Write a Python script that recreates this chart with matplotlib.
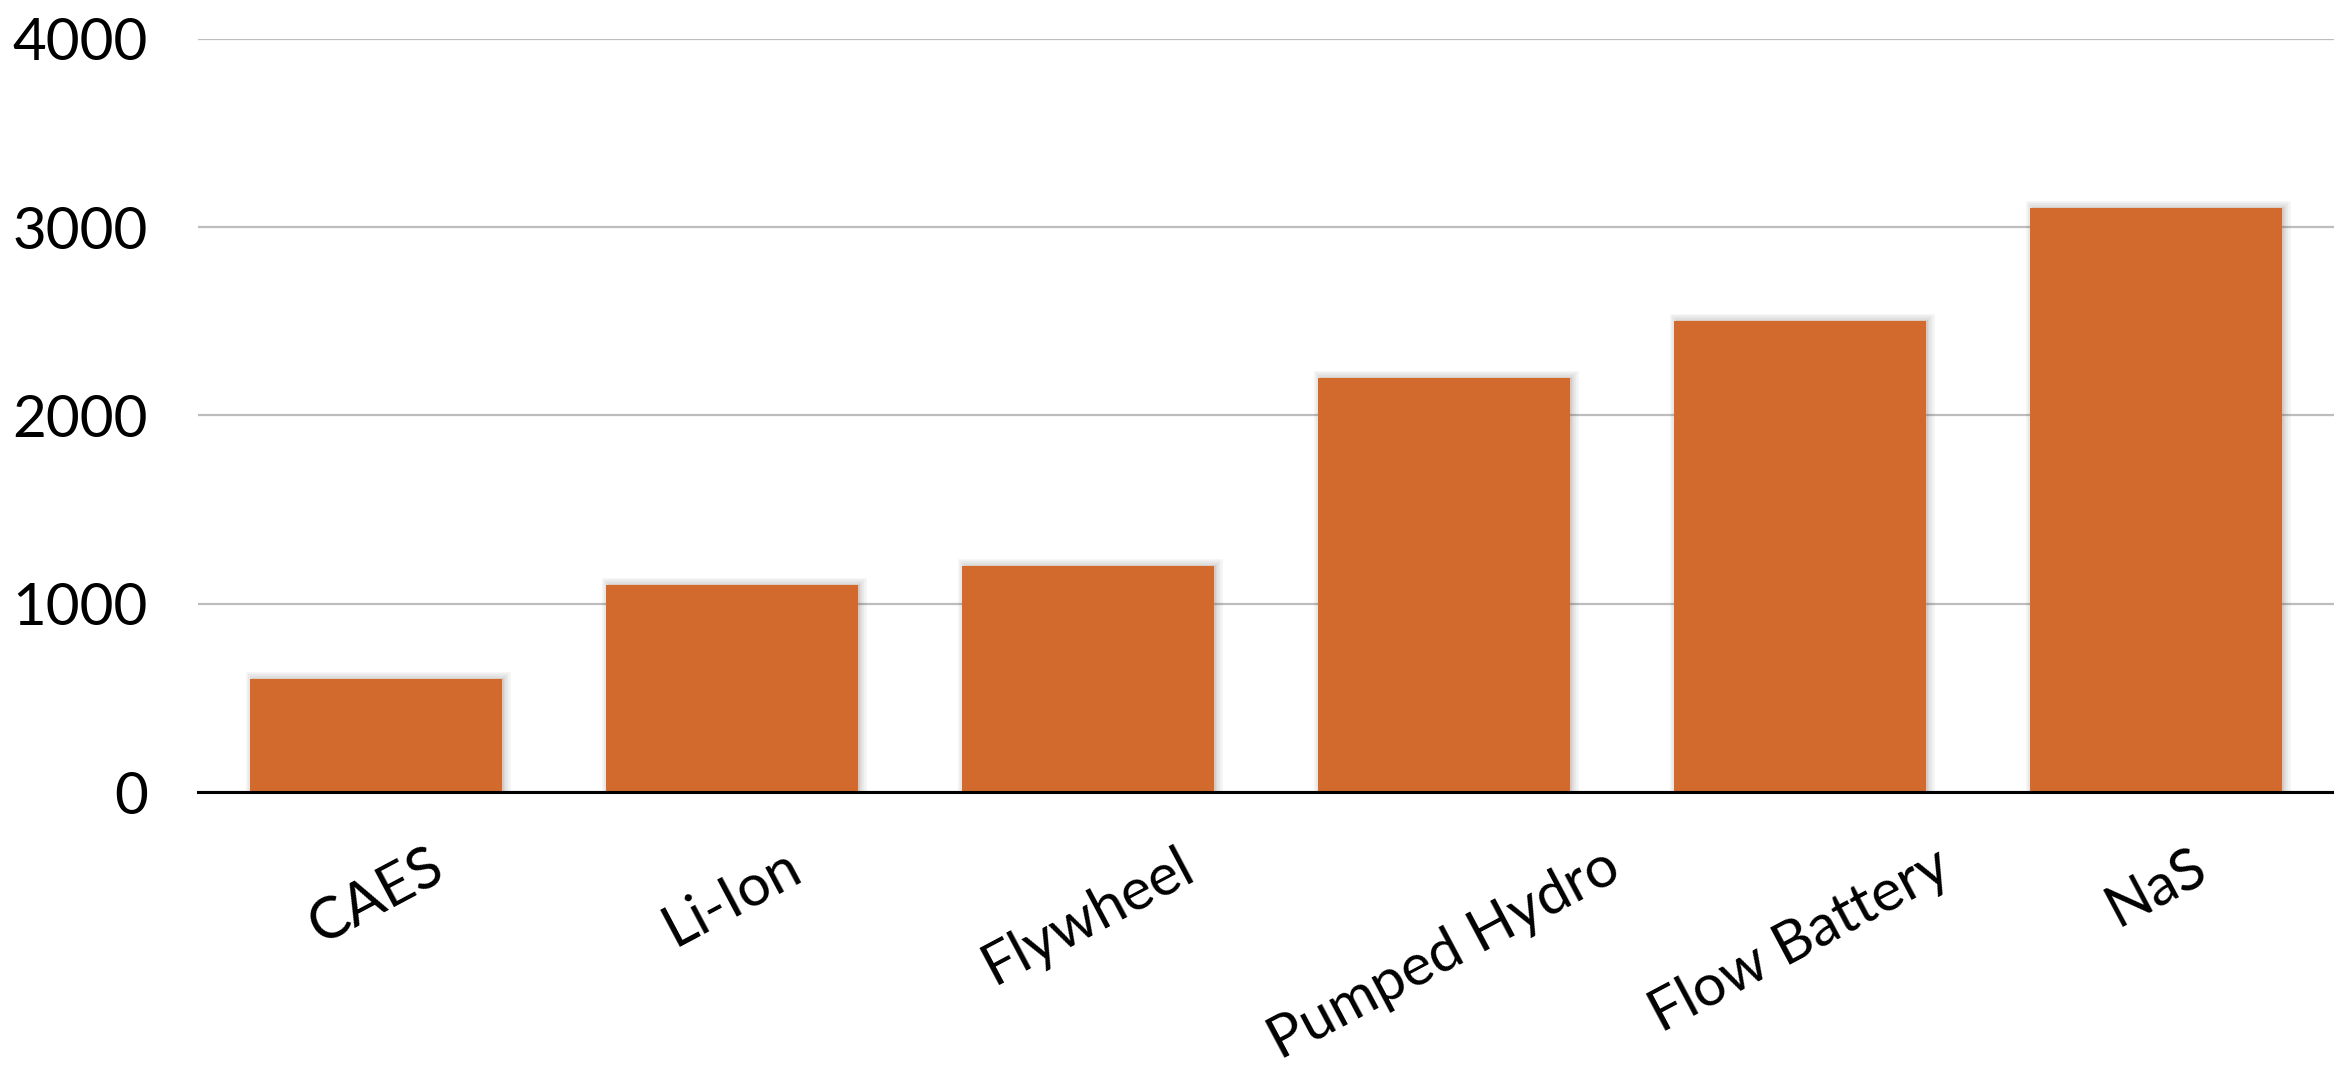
import matplotlib
matplotlib.use("Agg")
import matplotlib.pyplot as plt
import matplotlib.patheffects as pe

# Storage technologies and their values
categories = ["CAES", "Li-Ion", "Flywheel", "Pumped Hydro", "Flow Battery", "NaS"]
values = [600, 1100, 1200, 2200, 2500, 3100]
yticks = [0, 1000, 2000, 3000, 4000]

plt.rcParams["font.family"] = ["Lato", "DejaVu Sans"]

fig = plt.figure(figsize=(23.34, 10.68), dpi=100)
ax = fig.add_axes([0.0848, 0.2584, 0.9152, 0.7054])

bar_color = "#D16A2C"
x = list(range(len(categories)))
bars = ax.bar(x, values, width=0.71, color=bar_color, zorder=3, linewidth=0)

# soft drop shadow behind each bar
shadow = [pe.Stroke(linewidth=lw, foreground="#444444", alpha=0.06, offset=(1.5, 0.5))
          for lw in (9, 6, 3)]
for b in bars:
    b.set_path_effects(shadow + [pe.Normal()])

ax.set_xlim(-0.5, 5.5)
ax.set_ylim(0, 4000)
ax.set_yticks(yticks)
ax.set_yticklabels([str(v) for v in yticks])
ax.yaxis.grid(True, color="#BDBDBD", linewidth=1.6, zorder=0)
ax.set_axisbelow(True)

for side in ("top", "right", "left"):
    ax.spines[side].set_visible(False)
ax.spines["bottom"].set_color("black")
ax.spines["bottom"].set_linewidth(2.2)
ax.spines["bottom"].set_zorder(4)

ax.set_xticks(x)
ax.set_xticklabels(categories, rotation=28, ha="center", va="top", fontsize=42)
ax.tick_params(axis="x", length=0, pad=34)
ax.tick_params(axis="y", length=0, pad=36, labelsize=42)

fig.savefig("out.png", dpi=100, facecolor="white")
